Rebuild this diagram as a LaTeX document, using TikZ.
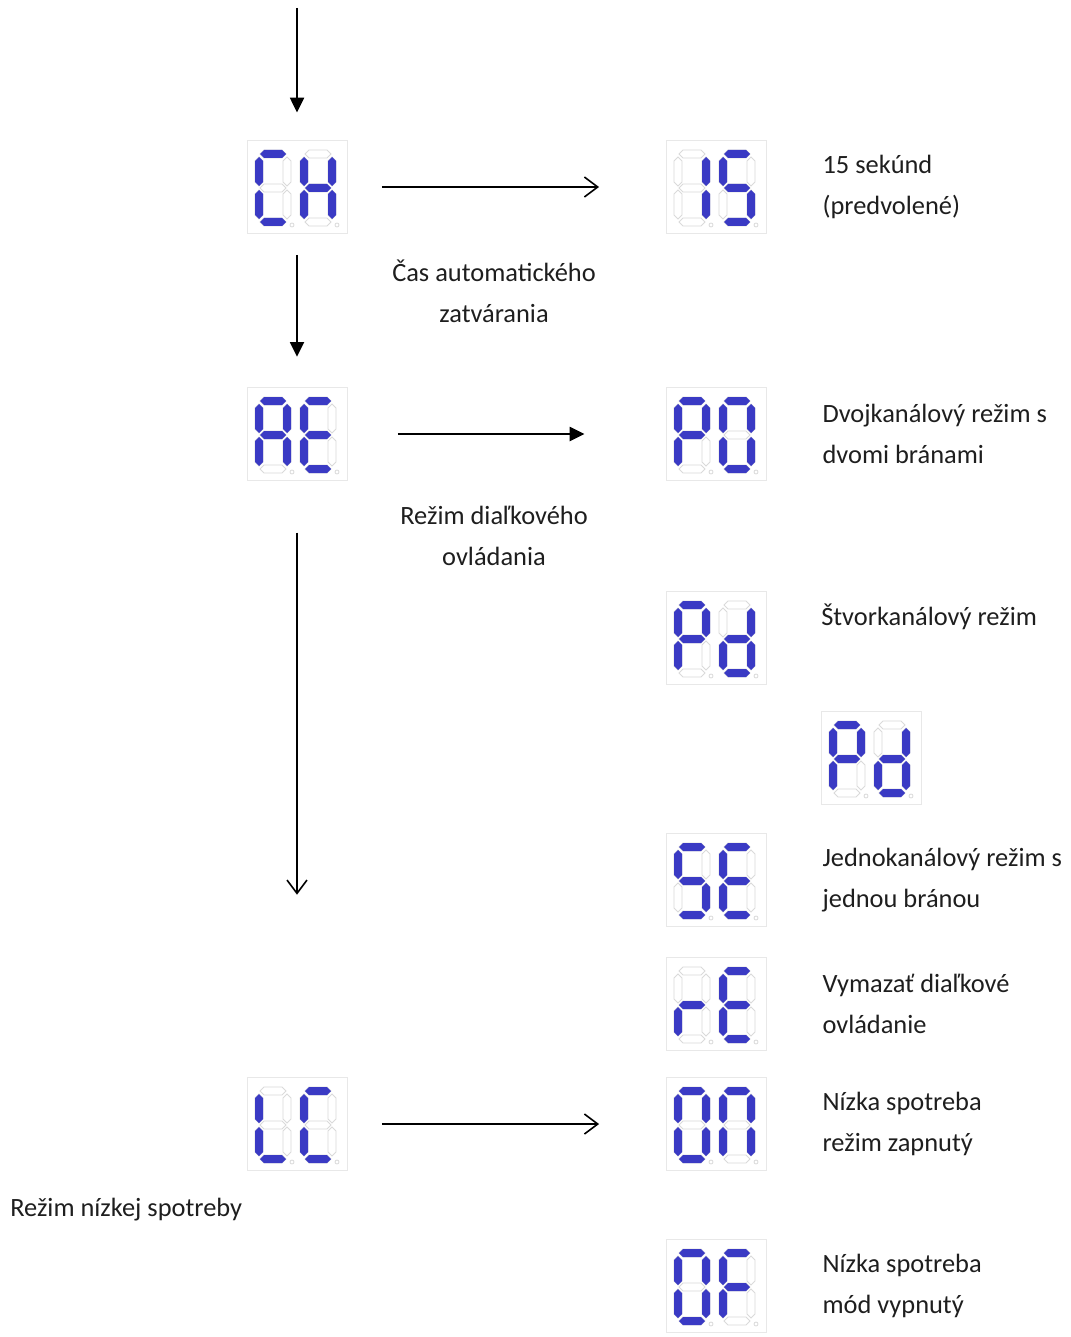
\documentclass[tikz,border=0pt]{standalone}
\usepackage{fontspec}
\setmainfont{Carlito}
\usetikzlibrary{positioning,calc,arrows.meta}

\definecolor{seglit}{RGB}{58,58,196}
\definecolor{segdim}{RGB}{218,218,218}
\definecolor{panelgray}{RGB}{232,232,232}
\definecolor{inkgray}{RGB}{30,30,30}

\tikzset{
  display/.style={rectangle, draw=panelgray, fill=white, inner sep=0pt,
    minimum width=75pt, minimum height=69.5pt},
  desc/.style={anchor=west, inner sep=0pt, align=left, text=inkgray,
    font=\fontsize{19.8}{31}\selectfont},
  note/.style={inner sep=0pt, align=center, text=inkgray,
    font=\fontsize{19.8}{31}\selectfont},
  flow/.style={-{Triangle[length=11pt,width=10.5pt]}, line width=1.4pt},
  pick/.style={-{Straight Barb[length=10pt,width=15pt,line width=1.2pt]}, line width=1.2pt},
  seg unlit/.style={draw=segdim, line width=0.6pt},
  seg lit/.style={fill=seglit},
  seg a/.style={insert path={(-13,-34) -- (-9,-38) -- (9,-38) -- (13,-34) -- (9,-30) -- (-9,-30) -- cycle}},
  seg b/.style={insert path={(14,-31) -- (18,-27) -- (18,-6) -- (14,-2) -- (10,-6) -- (10,-27) -- cycle}},
  seg c/.style={insert path={(14,2) -- (18,6) -- (18,27) -- (14,31) -- (10,27) -- (10,6) -- cycle}},
  seg d/.style={insert path={(-13,34) -- (-9,30) -- (9,30) -- (13,34) -- (9,38) -- (-9,38) -- cycle}},
  seg e/.style={insert path={(-14,2) -- (-10,6) -- (-10,27) -- (-14,31) -- (-18,27) -- (-18,6) -- cycle}},
  seg f/.style={insert path={(-14,-31) -- (-10,-27) -- (-10,-6) -- (-14,-2) -- (-18,-6) -- (-18,-27) -- cycle}},
  seg g/.style={insert path={(-13,0) -- (-9,-4) -- (9,-4) -- (13,0) -- (9,4) -- (-9,4) -- cycle}}
}

% one digit of a display: node, x offset, lit segments
\newcommand{\segdigit}[3]{%
  \begin{scope}[shift={($(#1.center)+(#2,1)$)}]
    \foreach \s in {a,b,c,d,e,f,g}
      \path[seg unlit, seg \s];
    \draw[segdim, line width=0.6pt] (19,37) circle (2);
    \foreach \s in {#3}
      \path[seg lit, seg \s];
  \end{scope}}

% a display with two digits
\newcommand{\twodigits}[3]{%
  \segdigit{#1}{-24}{#2}
  \segdigit{#1}{21}{#3}}

\begin{document}
\begin{tikzpicture}[x=0.75pt,y=-0.75pt]

    \useasboundingbox (0,0) rectangle (1070,1337);

    %displays, left column
    \node[display] (ch) at (297,187) {};
    \node[display] (ae) at (297,434) {};
    \node[display] (lc) at (297,1124) {};

    %displays, right column
    \node[display] (fifteen) at (716,187) {};
    \node[display] (pzero) at (716,434) {};
    \node[display] (pd) at (716,638) {};
    \node[display] (pdtwo) at (871,758) {};
    \node[display] (se) at (716,880) {};
    \node[display] (re) at (716,1004) {};
    \node[display] (on) at (716,1124) {};
    \node[display] (of) at (716,1286) {};

    %segments
    \twodigits{ch}{a,d,e,f}{b,c,e,f,g}
    \twodigits{ae}{a,b,c,e,f,g}{a,d,e,f,g}
    \twodigits{lc}{d,e,f}{a,d,e,f}
    \twodigits{fifteen}{b,c}{a,c,d,f,g}
    \twodigits{pzero}{a,b,e,f,g}{a,b,c,d,e,f}
    \twodigits{pd}{a,b,e,f,g}{b,c,d,e,g}
    \twodigits{pdtwo}{a,b,e,f,g}{b,c,d,e,g}
    \twodigits{se}{a,c,d,f,g}{a,d,e,f,g}
    \twodigits{re}{e,g}{a,d,e,f,g}
    \twodigits{on}{a,b,c,d,e,f}{a,b,c,e,f}
    \twodigits{of}{a,b,c,d,e,f}{a,e,f,g}

    %arrows
    \coordinate (entry) at (297,8);
    \draw[flow, shorten >=21pt] (entry) -- (ch);
    \draw[flow, shorten <=16pt, shorten >=23pt] (ch) -- (ae);
    \draw[pick, shorten <=26pt, shorten >=50pt] (ch) -- (fifteen);
    \draw[flow, shorten <=38pt, shorten >=61pt] (ae) -- (pzero);
    \draw[pick, shorten <=39pt, shorten >=137pt] (ae) -- (lc);
    \draw[pick, shorten <=26pt, shorten >=50pt] (lc) -- (on);

    %labels under the arrows
    \node[note] (chnote) at (494,291) {Čas automatického\\zatvárania};
    \node[note] (aenote) at (494,536) {Režim diaľkového\\ovládania};
    \node[desc] (lcnote) at (10,1210) {Režim nízkej spotreby};

    %descriptions
    \node[desc, right=42pt of fifteen] (t15) {15 sekúnd\\(predvolené)};
    \node[desc, right=42pt of pzero] (tpzero) {Dvojkanálový režim s\\dvomi bránami};
    \node[desc] (tpd) at (821,617) {Štvorkanálový režim};
    \node[desc, right=42pt of se] (tse) {Jednokanálový režim s\\jednou bránou};
    \node[desc, right=42pt of re] (tre) {Vymazať diaľkové\\ovládanie};
    \node[desc, right=42pt of on] (ton) {Nízka spotreba\\režim zapnutý};
    \node[desc, right=42pt of of] (tof) {Nízka spotreba\\mód vypnutý};

\end{tikzpicture}
\end{document}
